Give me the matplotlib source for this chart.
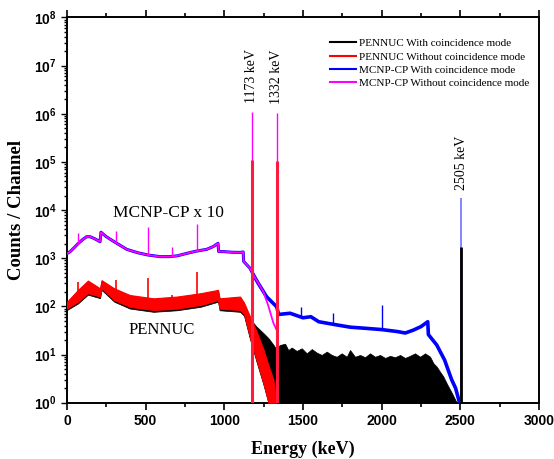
import numpy as np
import matplotlib
matplotlib.use('Agg')
import matplotlib.pyplot as plt
from matplotlib.ticker import MultipleLocator, FixedLocator, FuncFormatter, NullFormatter

plt.rcParams['mathtext.fontset'] = 'custom'
plt.rcParams['mathtext.bf'] = 'Liberation Sans:bold'
plt.rcParams['mathtext.rm'] = 'Liberation Sans:bold'

# MCNP-CP (x10) continuum, shared by both modes below ~1185 keV
mc_e = [0, 20, 45, 70, 100, 125, 146, 170, 190, 210, 216, 250, 300, 380, 450, 513, 591, 650,
        700, 761, 820, 888, 930, 960, 964, 1000, 1050, 1100, 1120, 1123, 1163, 1185]
mc_y = [1250, 1370, 1650, 2000, 2450, 2800, 2800, 2600, 2400, 2200, 3470, 2800, 2200, 1530,
        1300, 1170, 1080, 1080, 1120, 1260, 1400, 1530, 1750, 2040, 1380, 1370, 1330, 1320,
        1350, 860, 620, 450]

# MCNP-CP with coincidence mode, tail above 1185 keV
blue_e = [1185, 1216, 1269, 1333, 1345, 1418, 1500, 1550, 1600, 1700, 1800, 1900, 2000, 2100,
          2150, 2200, 2250, 2293, 2297, 2350, 2400, 2445, 2470, 2495]
blue_y = [450, 300, 158, 98, 68, 72, 58, 61, 48, 42, 37, 35, 33, 30, 28, 32, 38, 48, 26, 15.8,
          7.7, 3.0, 2.0, 1.0]

# MCNP-CP without coincidence mode, tail above 1185 keV
mag_e = [1185, 1248, 1280, 1312, 1333]
mag_y = [450, 202, 102, 45, 32]

# MCNP-CP peaks (base = continuum under the peak)
mag_pk_e = [72, 311, 513, 665, 824, 1173, 1332]
mag_pk_y = [3300, 3700, 4400, 1740, 5100, 1.1e6, 1.05e6]
mag_pk_base = [2000, 2200, 1170, 1080, 1400, 1, 1]
blue_pk_e = [1333, 1488, 1689, 2000, 2505]
blue_pk_y = [350, 95, 72, 107, 17500]
blue_pk_base = [98, 60, 42, 33, 1]

# PENNUC noisy bands (upper / lower envelopes)
pn_e = [0, 70, 133, 210, 220, 300, 400, 550, 700, 850, 960, 970, 1100, 1125, 1163, 1205,
        1248, 1280, 1312, 1330]
red_top = [125, 220, 343, 237, 350, 237, 172, 147, 160, 188, 220, 147, 160, 120, 62, 30, 13,
           6, 3, 1]
red_low = [91, 125, 188, 160, 237, 135, 98, 84, 90, 107, 135, 90, 84, 70, 23, 7.7, 2.6, 1, 1, 1]
blk_top = [120, 210, 330, 230, 340, 230, 165, 140, 150, 180, 210, 140, 150, 115, 55, 38, 28,
           22, 16, 13]
blk_low = [84, 115, 175, 148, 220, 125, 90, 77, 83, 98, 125, 83, 77, 64, 21, 7, 2.4, 1, 1, 1]

# PENNUC with coincidence mode, sum region above 1332 keV
tail_e = [1333, 1354, 1386, 1407, 1428, 1460, 1492, 1524, 1556, 1587, 1619, 1651, 1683, 1714,
          1746, 1778, 1799, 1831, 1863, 1894, 1926, 1958, 1990, 2022, 2053, 2085, 2117, 2149,
          2180, 2212, 2244, 2276, 2308, 2329, 2350, 2371, 2392, 2414, 2446, 2477]
tail_top = [14, 15.8, 16.8, 12.4, 14, 11.9, 13.5, 10.6, 13, 11, 9.8, 11.5, 9.8, 9, 10.6, 9,
            12.4, 9, 9.8, 8.8, 10.6, 9, 9.8, 8.5, 9.4, 8.8, 9.8, 8.5, 9.4, 10.6, 9, 10.6, 9,
            6.6, 5.6, 4.4, 3.5, 2.5, 1.6, 1]

# PENNUC peaks
red_pk_e = [72, 311, 513, 665, 824, 1173, 1332]
red_pk_y = [325, 350, 385, 170, 525, 1.1e5, 1.05e5]
red_pk_base = [200, 200, 140, 140, 170, 1, 1]
blk_pk_e = [2505]
blk_pk_y = [1700]

labels = ['PENNUC With coincidence mode', 'PENNUC Without coincidence mode',
          'MCNP-CP With coincidence mode', 'MCNP-CP Without coincidence mode']
peak_names = ['1173 keV', '1332 keV', '2505 keV']
peak_pos = [1173, 1332, 2505]
peak_top = [1.1e6, 1.05e6, 17500]

fig = plt.figure(figsize=(5.54, 4.59), dpi=100)
ax = fig.add_axes([0.1209, 0.1227, 0.852, 0.8392])

# PENNUC bands
ax.fill_between(pn_e, blk_low, blk_top, color='black', lw=0.5, zorder=2)
ax.fill_between(tail_e, 1, tail_top, color='black', lw=0.5, zorder=2)
ax.vlines(blk_pk_e, 1, blk_pk_y, color='black', lw=2, zorder=6)
ax.fill_between(pn_e, red_low, red_top, color='red', lw=0.8, zorder=3)
ax.vlines(red_pk_e[:5], red_pk_base[:5], red_pk_y[:5], color='red', lw=1.2, zorder=3)

# MCNP-CP curves
ax.plot(mc_e, mc_y, color='blue', lw=2.2, zorder=4)
ax.plot(blue_e, blue_y, color='blue', lw=2.6, zorder=4)
ax.vlines(blue_pk_e[:4], blue_pk_base[:4], blue_pk_y[:4], color='blue', lw=1, zorder=4)
ax.vlines(blue_pk_e[4], blue_pk_base[4], blue_pk_y[4], color='#6f6fff', lw=1.2, zorder=5)
ax.plot(mc_e, mc_y, color='magenta', lw=1.3, zorder=5)
ax.plot(mag_e, mag_y, color='magenta', lw=1.3, zorder=5)
ax.vlines(mag_pk_e, mag_pk_base, mag_pk_y, color='magenta', lw=1, zorder=5)
ax.vlines(red_pk_e[5:], red_pk_base[5:], red_pk_y[5:], color='#ff1a40', lw=2.2, zorder=6)

for name, e, top in zip(peak_names, peak_pos, peak_top):
    ax.annotate(name, (e, top), xytext=(0, 6), textcoords='offset points', rotation=90,
                ha='center', va='bottom', fontsize=10, family='Liberation Serif')

ax.text(642, 8700, 'MCNP-CP x 10', ha='center', va='center', fontsize=12.5,
        family='Liberation Serif')
ax.text(604, 32, 'PENNUC', ha='center', va='center', fontsize=12,
        family='Liberation Serif')

# legend
handles = [plt.Line2D([], [], color=c, lw=1.5) for c in ['black', 'red', 'blue', 'magenta']]
ax.legend(handles, labels, loc='upper left', bbox_to_anchor=(0.545, 0.96), frameon=False,
          prop={'family': 'Liberation Serif', 'size': 8}, handlelength=2.4,
          handletextpad=0.2, labelspacing=0.32, borderpad=0)

ax.set_xlim(0, 3000)
ax.set_yscale('log')
ax.set_ylim(1, 1e8)
ax.xaxis.set_major_locator(MultipleLocator(500))
ax.xaxis.set_minor_locator(MultipleLocator(250))
ax.yaxis.set_major_locator(FixedLocator(10.0 ** np.arange(0, 9)))
ax.yaxis.set_minor_locator(FixedLocator([m * 10.0 ** d for d in range(8) for m in range(2, 10)]))
ax.yaxis.set_minor_formatter(NullFormatter())
ax.yaxis.set_major_formatter(FuncFormatter(lambda v, p: r'$\mathbf{10^{%d}}$' % round(np.log10(v))))

ax.tick_params(axis='x', which='both', direction='out', top=True, bottom=True, width=1.2)
ax.tick_params(axis='x', which='major', length=5)
ax.tick_params(axis='x', which='minor', length=3)
ax.tick_params(axis='y', which='both', direction='out', left=True, right=False, width=1)
ax.tick_params(axis='y', which='major', length=4)
ax.tick_params(axis='y', which='minor', length=2.5)
ax.tick_params(labelsize=10)
for lab in ax.get_xticklabels():
    lab.set_family('Liberation Sans')
    lab.set_weight('bold')
for s in ax.spines.values():
    s.set_linewidth(1.4)

ax.set_xlabel('Energy (keV)', fontsize=13, fontweight='bold', family='Liberation Serif',
              labelpad=9)
ax.set_ylabel('Counts / Channel', fontsize=13.5, fontweight='bold', family='Liberation Serif',
              labelpad=6)

fig.savefig('out.png', dpi=100)
